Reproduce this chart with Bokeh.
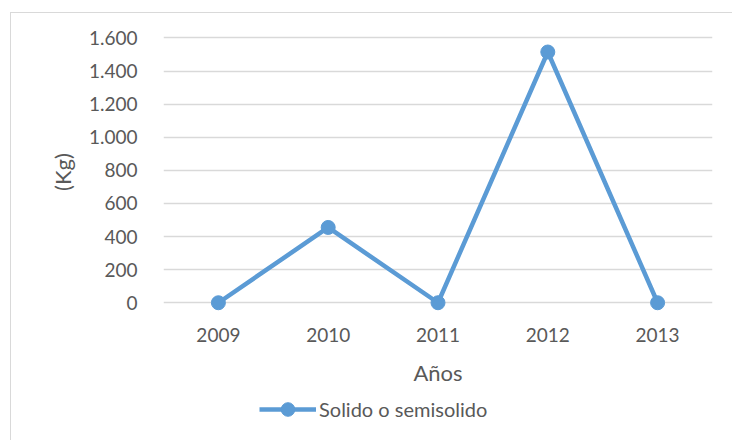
from bokeh.plotting import figure
from bokeh.layouts import column
from bokeh.models import Range1d, FixedTicker, Legend, LegendItem, CustomJSTickFormatter, ColumnDataSource
from bokeh.embed import file_html
from bokeh.resources import INLINE

years = ["2009", "2010", "2011", "2012", "2013"]
values = [0, 455, 0, 1515, 0]
y_ticks = [0, 200, 400, 600, 800, 1000, 1200, 1400, 1600]
series_name = "Solido o semisolido"

FONT = "Lato"
BLUE = "#5b9bd5"
TXT = "#595959"

src = ColumnDataSource(dict(x=years, y=values))

p = figure(width=722, height=375, x_range=years, y_range=Range1d(-65, 1645),
           output_backend="svg", toolbar_location=None,
           min_border_left=152, min_border_right=21, min_border_top=17, min_border_bottom=10)
p.outline_line_color = None
p.background_fill_color = "white"
p.border_fill_color = "white"

line = p.line("x", "y", source=src, line_color=BLUE, line_width=4.5)
pts = p.scatter("x", "y", source=src, size=14, fill_color=BLUE, line_color=BLUE)

p.yaxis.ticker = FixedTicker(ticks=y_ticks)
p.yaxis.formatter = CustomJSTickFormatter(code="return tick.toString().replace(/\\B(?=(\\d{3})+(?!\\d))/g, '.');")
p.yaxis.axis_label = "(Kg)"
p.xaxis.axis_label = "Años"
for ax in (p.xaxis, p.yaxis):
    ax.axis_line_color = None
    ax.major_tick_line_color = None
    ax.minor_tick_line_color = None
    ax.major_label_text_font = FONT
    ax.major_label_text_font_size = "19px"
    ax.major_label_text_color = TXT
    ax.axis_label_text_font = FONT
    ax.axis_label_text_font_size = "22px"
    ax.axis_label_text_font_style = "normal"
    ax.axis_label_text_color = TXT
p.yaxis.major_label_standoff = 20
p.yaxis.axis_label_standoff = 10
p.xaxis.major_label_standoff = 8
p.xaxis.axis_label_standoff = 14

p.xgrid.grid_line_color = None
p.ygrid.grid_line_color = "#d9d9d9"
p.ygrid.grid_line_width = 1.5

# legend strip (same series renderers, drawn outside its visible range; only the legend shows)
lg = figure(width=722, height=53, x_range=years, y_range=Range1d(100000, 100001),
            output_backend="svg", toolbar_location=None,
            x_axis_type=None, y_axis_type=None,
            min_border_left=0, min_border_right=0, min_border_top=0, min_border_bottom=0)
lg.outline_line_color = None
lg.grid.visible = False
lg.border_fill_color = "white"
l_line = lg.line("x", "y", source=src, line_color=BLUE, line_width=4.5)
l_pts = lg.scatter("x", "y", source=src, size=14, fill_color=BLUE, line_color=BLUE)
legend = Legend(items=[LegendItem(label=series_name, renderers=[l_line, l_pts])],
                orientation="horizontal", location=(96, 15),
                label_text_font=FONT, label_text_font_size="20px", label_text_color=TXT,
                glyph_width=57, glyph_height=34, label_standoff=3, padding=0, margin=0,
                border_line_color=None, background_fill_alpha=0)
lg.add_layout(legend)

layout = column(p, lg, spacing=0)
layout.styles = {"margin-left": "10px", "margin-top": "12px",
                 "border-left": "1px solid #d9d9d9", "border-top": "1px solid #d9d9d9"}

open("out.html", "w").write(file_html(layout, INLINE))
